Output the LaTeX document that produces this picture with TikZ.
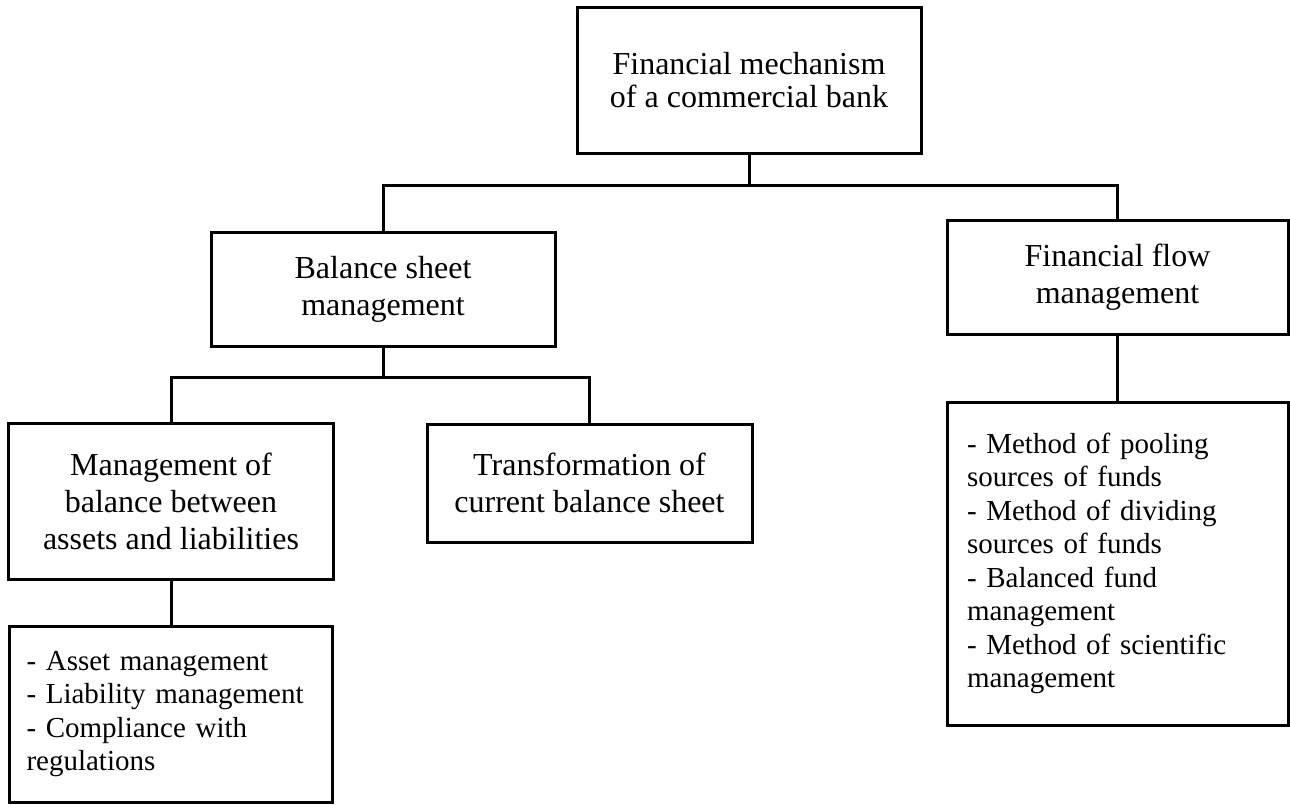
\documentclass[tikz,border=0pt]{standalone}
\usepackage{fontspec}
\setmainfont{Liberation Serif}
\tikzset{
	box/.style={draw, line width=3pt, inner sep=0pt, align=center, font=\fontsize{32}{37}\selectfont},
	listbox/.style={box, align=left, font=\fontsize{29}{33.5}\selectfont},
}
\begin{document}
\begin{tikzpicture}[x=1pt, y=-1pt, line width=3pt]
		\useasboundingbox (0,0) rectangle (1290,804);
			\node[box, minimum width=344pt, minimum height=146pt, font=\fontsize{32}{33}\selectfont] (top) at (749,80) {Financial mechanism\\of a commercial bank};
			
			\node[box, minimum width=344pt, minimum height=114pt] (balance) at (383,289) {Balance sheet\\management};
			\node[box, minimum width=341pt, minimum height=114pt] (flow) at (1117.5,277) {Financial flow\\management};
			
			\node[box, minimum width=325pt, minimum height=156pt] (assetliab) at (171,501) {Management of\\balance between\\assets and liabilities};
			\node[box, minimum width=325pt, minimum height=118pt] (transform) at (589.5,483) {Transformation of\\current balance sheet};
			
			\node[listbox, text width=289pt, inner xsep=17pt, minimum height=176pt] (alist) at (171,714) {- Asset management\\- Liability management\\- Compliance with\\regulations};
			\node[listbox, text width=301pt, inner xsep=20pt, minimum height=323pt] (flist) at (1117.5,563.5) {- Method of pooling\\sources of funds\\- Method of dividing\\sources of funds\\- Balanced fund\\management\\- Method of scientific\\management};
			
			\coordinate (busA) at (749,185);
			\coordinate (busB) at (383,377);
			\draw (top.south) -- (busA);
			\draw (balance.north) |- (busA) -| (flow.north);
			\draw (balance.south) -- (busB);
			\draw (assetliab.north) |- (busB) -| (transform.north);
			\draw (assetliab.south) -- (alist.north);
			\draw (flow.south) -- (flist.north);
		\end{tikzpicture}
\end{document}
